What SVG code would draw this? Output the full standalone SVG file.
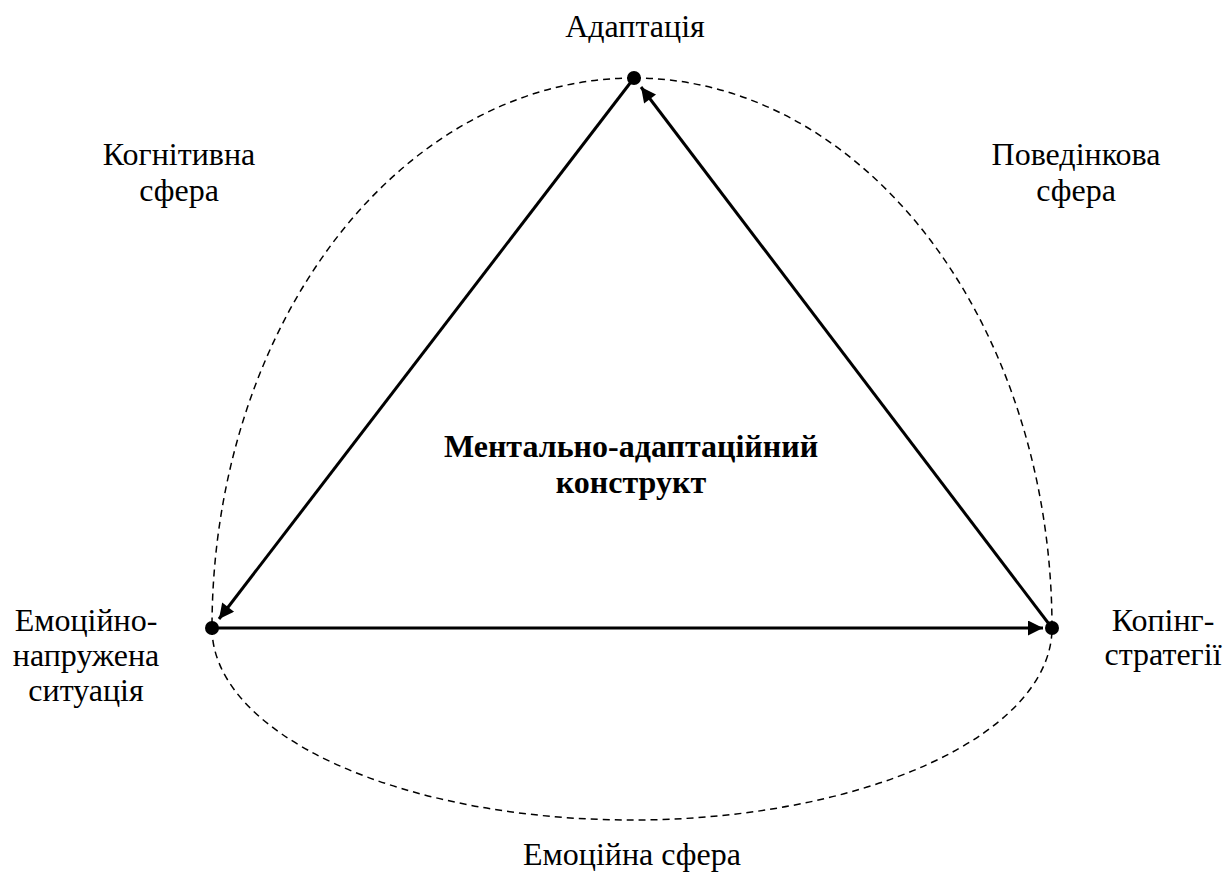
<svg xmlns="http://www.w3.org/2000/svg" width="1230" height="891" viewBox="0 0 1230 891">
  <style>
    text { font-family: "Liberation Serif", "Times New Roman", serif; font-size: 32px; fill: #000; text-anchor: middle; }
    .bold { font-weight: bold; }
    .sphere { fill: none; stroke: #000; stroke-width: 1.5; stroke-dasharray: 7 5; }
    .edge { fill: none; stroke: #000; stroke-width: 3; }
    .dot { fill: #000; }
  </style>
  <defs>
    <marker id="arrow" viewBox="0 0 10 10" refX="10" refY="5" markerWidth="7" markerHeight="5" markerUnits="strokeWidth" orient="auto">
      <path d="M0,0 L10,5 L0,10 Z" fill="#000"/>
    </marker>
  </defs>

  <!-- dashed sphere boundaries -->
  <g id="spheres">
    <path class="sphere" d="M634,78 A422,550 0 0 0 212,628"/>
    <path class="sphere" d="M634,78 A418,550 0 0 1 1052,628"/>
    <path class="sphere" d="M212,628 A420,192 0 0 0 1052,628"/>
  </g>

  <!-- connectors -->
  <g id="connectors">
    <line class="edge" x1="634" y1="78" x2="219" y2="619" marker-end="url(#arrow)"/>
    <line class="edge" x1="212" y1="628" x2="1043" y2="628" marker-end="url(#arrow)"/>
    <line class="edge" x1="1052" y1="628" x2="641" y2="87" marker-end="url(#arrow)"/>
  </g>

  <g id="node-adaptation">
    <circle class="dot" cx="634" cy="78" r="7"/>
    <text x="635" y="37">Адаптація</text>
  </g>
  <g id="node-situation">
    <circle class="dot" cx="212" cy="628" r="7"/>
    <text x="86" y="631">Емоційно-</text>
    <text x="86" y="666">напружена</text>
    <text x="86" y="701">ситуація</text>
  </g>
  <g id="node-coping">
    <circle class="dot" cx="1052" cy="628" r="7"/>
    <text x="1163" y="631">Копінг-</text>
    <text x="1163" y="665">стратегії</text>
  </g>

  <g id="label-cognitive">
    <text x="179" y="165">Когнітивна</text>
    <text x="179" y="201">сфера</text>
  </g>
  <g id="label-behavioral">
    <text x="1076" y="165">Поведінкова</text>
    <text x="1076" y="201">сфера</text>
  </g>
  <g id="label-emotional">
    <text x="632" y="865">Емоційна сфера</text>
  </g>
  <g id="label-construct">
    <text class="bold" x="631" y="457">Ментально-адаптаційний</text>
    <text class="bold" x="631" y="493">конструкт</text>
  </g>
</svg>
